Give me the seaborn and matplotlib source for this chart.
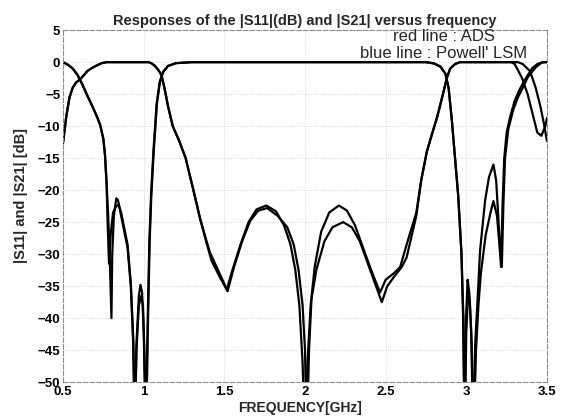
import numpy as np
import pandas as pd
import seaborn as sns
import matplotlib.pyplot as plt

# |S21| - ADS
s21_ads_f = [0.50, 0.53, 0.56, 0.59, 0.62, 0.65, 0.68, 0.71, 0.73, 0.75, 0.76, 0.77,
             0.78, 0.79, 0.80, 0.805, 0.815, 0.83, 0.84, 0.86, 0.88, 0.90, 0.92, 0.935,
             0.945, 0.955, 0.97, 0.98, 0.99, 1.00, 1.012, 1.025, 1.035, 1.045, 1.06, 1.08,
             1.10, 1.12, 1.15, 1.20, 1.30, 2.75, 2.80, 2.84, 2.87, 2.89, 2.91, 2.93,
             2.95, 2.97, 2.98, 2.988, 2.998, 3.008, 3.018, 3.03, 3.042, 3.055, 3.07, 3.085,
             3.116, 3.14, 3.168, 3.185, 3.20, 3.215, 3.225, 3.235, 3.25, 3.27, 3.30, 3.33,
             3.364, 3.41, 3.44, 3.47, 3.50]
s21_ads_db = [0.0, -0.4, -1.0, -2.0, -3.5, -5.2, -6.8, -8.5, -9.8, -12.0, -14.5, -19.0,
              -24.0, -31.0, -40.0, -30.0, -24.0, -21.3, -21.5, -24.0, -26.5, -29.0, -35.0, -44.0,
              -58.0, -44.0, -36.5, -34.8, -36.0, -42.0, -58.0, -40.0, -28.0, -21.0, -14.0, -6.5,
              -3.0, -1.5, -0.6, -0.15, 0.0, 0.0, -0.2, -0.7, -1.8, -4.0, -9.0, -15.0,
              -21.0, -30.0, -40.0, -58.0, -40.0, -34.0, -36.0, -42.0, -58.0, -44.0, -37.0, -29.5,
              -21.7, -18.0, -16.0, -18.5, -25.0, -32.0, -22.0, -15.0, -11.0, -8.7, -6.0, -4.3,
              -2.7, -0.9, -0.3, 0.0, 0.0]

# |S21| - Powell' LSM
s21_pow_f = [0.50, 0.53, 0.56, 0.59, 0.62, 0.65, 0.68, 0.71, 0.73, 0.75, 0.76, 0.77,
             0.775, 0.785, 0.795, 0.81, 0.83, 0.845, 0.86, 0.88, 0.90, 0.92, 0.935,
             0.945, 0.955, 0.97, 0.985, 0.995, 1.003, 1.015, 1.027, 1.037, 1.047, 1.062, 1.082,
             1.10, 1.12, 1.15, 1.20, 1.30, 2.75, 2.80, 2.84, 2.87, 2.89, 2.91, 2.93,
             2.95, 2.97, 2.982, 2.99, 3.0, 3.012, 3.022, 3.033, 3.046, 3.06, 3.075, 3.09,
             3.12, 3.15, 3.168, 3.19, 3.21, 3.22, 3.23, 3.24, 3.26, 3.29, 3.32, 3.35,
             3.38, 3.43, 3.46, 3.48, 3.50]
s21_pow_db = [0.0, -0.4, -1.0, -2.0, -3.5, -5.2, -6.8, -8.5, -9.8, -12.0, -14.5, -19.0,
              -24.0, -31.5, -27.0, -23.5, -22.5, -22.3, -23.5, -26.0, -28.5, -34.5, -43.0,
              -58.0, -45.0, -38.0, -36.5, -38.0, -44.0, -58.0, -40.0, -28.0, -21.0, -14.0, -6.5,
              -3.2, -1.6, -0.6, -0.15, 0.0, 0.0, -0.2, -0.7, -1.8, -4.0, -9.0, -15.0,
              -21.0, -30.0, -40.0, -58.0, -42.0, -35.5, -37.5, -44.0, -58.0, -45.0, -38.0, -33.0,
              -27.0, -23.5, -21.7, -24.0, -30.0, -32.0, -22.0, -15.0, -10.5, -7.5, -5.5, -4.0,
              -2.4, -0.8, -0.2, 0.0, 0.0]

# |S11| - ADS
s11_ads_f = [0.50, 0.52, 0.54, 0.56, 0.58, 0.605, 0.63, 0.65, 0.68, 0.71, 0.74, 0.77,
             1.03, 1.05, 1.07, 1.09, 1.11, 1.13, 1.15, 1.18, 1.22, 1.26, 1.31, 1.35, 1.39,
             1.41, 1.47, 1.515, 1.55, 1.60, 1.65, 1.70, 1.76, 1.82, 1.87, 1.91, 1.94,
             1.965, 1.985, 2.00, 2.015, 2.035, 2.06, 2.10, 2.15, 2.21, 2.26, 2.31, 2.36,
             2.41, 2.465, 2.50, 2.55, 2.59, 2.63, 2.69, 2.72, 2.755, 2.79, 2.82, 2.85,
             2.88, 2.90, 2.93, 2.96, 3.28, 3.30, 3.344, 3.38, 3.41, 3.44, 3.465, 3.49, 3.50]
s11_ads_db = [-12.6, -8.5, -5.5, -4.0, -3.2, -2.7, -2.0, -1.4, -0.9, -0.5, -0.15, 0.0,
              0.0, -0.2, -0.6, -1.2, -2.0, -4.2, -6.8, -10.0, -12.3, -15.0, -20.2, -24.5, -28.0,
              -29.7, -33.0, -35.5, -32.5, -28.5, -25.0, -23.0, -22.4, -23.3, -25.5, -28.5, -32.5,
              -38.0, -47.0, -60.0, -47.0, -38.0, -32.0, -26.5, -23.5, -22.4, -23.2, -25.5, -29.0,
              -32.5, -36.0, -34.0, -33.0, -32.0, -28.5, -23.5, -18.5, -14.0, -11.0, -8.5, -5.5,
              -2.4, -1.0, -0.3, 0.0, 0.0, -0.3, -2.4, -5.0, -8.0, -11.0, -11.5, -10.0, -8.7]

# |S11| - Powell' LSM
s11_pow_f = [0.50, 0.52, 0.54, 0.56, 0.58, 0.605, 0.63, 0.65, 0.68, 0.71, 0.74, 0.77,
             1.03, 1.05, 1.07, 1.09, 1.11, 1.13, 1.15, 1.18, 1.22, 1.26, 1.31, 1.35, 1.39,
             1.42, 1.47, 1.52, 1.56, 1.61, 1.66, 1.71, 1.765, 1.83, 1.89, 1.93, 1.96,
             1.985, 2.0, 2.01, 2.025, 2.04, 2.07, 2.12, 2.17, 2.236, 2.29, 2.34, 2.39,
             2.44, 2.476, 2.51, 2.55, 2.60, 2.63, 2.69, 2.72, 2.755, 2.79, 2.82, 2.85,
             2.88, 2.90, 2.93, 2.96, 3.32, 3.35, 3.395, 3.43, 3.46, 3.48, 3.50]
s11_pow_db = [-12.6, -8.5, -5.5, -4.0, -3.2, -2.7, -2.0, -1.4, -0.9, -0.5, -0.15, 0.0,
              0.0, -0.2, -0.6, -1.2, -2.0, -4.2, -6.8, -10.0, -12.3, -15.0, -20.2, -24.5, -28.3,
              -31.0, -33.5, -35.8, -32.0, -28.0, -24.8, -23.2, -22.8, -24.0, -25.8, -28.5, -32.5,
              -38.0, -45.0, -60.0, -45.0, -37.0, -32.5, -28.0, -25.8, -25.0, -25.8, -28.0, -31.5,
              -35.0, -37.5, -35.0, -33.6, -32.0, -30.5, -24.0, -18.5, -14.0, -11.0, -8.5, -5.5,
              -2.4, -1.0, -0.3, 0.0, 0.0, -0.3, -1.4, -4.0, -7.0, -9.5, -12.3]

x_ticks = [0.5, 1, 1.5, 2, 2.5, 3, 3.5]
x_tick_labels = ["0.5", "1", "1.5", "2", "2.5", "3", "3.5"]
y_ticks = [5, 0, -5, -10, -15, -20, -25, -30, -35, -40, -45, -50]

sns.set_style("white")
plt.rcParams['font.family'] = ['Liberation Sans', 'DejaVu Sans']

fig, ax = plt.subplots(figsize=(5.68, 4.19), dpi=100)
fig.subplots_adjust(left=0.111, right=0.963, bottom=0.088, top=0.928)

for f, db in [(s21_ads_f, s21_ads_db), (s21_pow_f, s21_pow_db),
              (s11_ads_f, s11_ads_db), (s11_pow_f, s11_pow_db)]:
    sns.lineplot(x=f, y=db, ax=ax, color='black', linewidth=1.6,
                 estimator=None, sort=False)

ax.set_xlim(0.5, 3.5)
ax.set_ylim(-50, 5)
ax.set_xticks(x_ticks)
ax.set_xticklabels(x_tick_labels)
ax.set_yticks(y_ticks)
ax.tick_params(direction='in', length=3, labelsize=9.5, colors='black')
ax.tick_params(axis='x', pad=3)
ax.tick_params(axis='y', pad=2)
for lab in ax.get_xticklabels() + ax.get_yticklabels():
    lab.set_fontweight('bold')
ax.grid(True, linestyle=':', color='0.8', linewidth=0.6)
for s in ax.spines.values():
    s.set_color('0.55')
    s.set_linewidth(0.8)
    s.set_linestyle((0, (4, 2)))

ax.set_title("Responses of the |S11|(dB) and |S21| versus frequency",
             fontsize=10.5, fontweight='bold', pad=4)
ax.set_xlabel("FREQUENCY[GHz]", fontsize=10, fontweight='bold')
ax.xaxis.set_label_coords(0.49, -0.055)
ax.set_ylabel("|S11| and |S21| [dB]", fontsize=10.5, fontweight='bold')
ax.yaxis.set_label_coords(-0.072, 0.53)

ax.text(0.787, 4.0, "red line : ADS", transform=ax.get_yaxis_transform(),
        ha='center', va='center', fontsize=12)
ax.text(0.787, 1.4, "blue line : Powell' LSM", transform=ax.get_yaxis_transform(),
        ha='center', va='center', fontsize=12)

fig.savefig("out.png", dpi=100)
